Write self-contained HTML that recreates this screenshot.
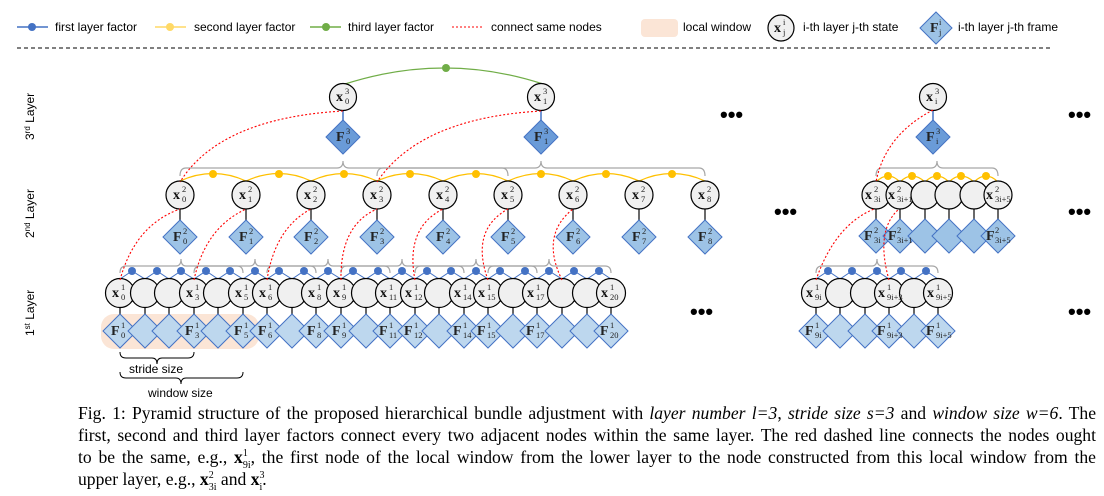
<!DOCTYPE html>
<html><head><meta charset="utf-8"><style>
html,body{margin:0;padding:0;background:#fff;width:1104px;height:496px;overflow:hidden;position:relative}
svg{position:absolute;left:0;top:0}
.lg{font-family:"Liberation Sans",sans-serif;font-size:12px;fill:#000}
.m{font-family:"Liberation Serif",serif;font-weight:bold;font-size:14px;fill:#111}
.f{font-family:"Liberation Serif",serif;font-weight:bold;font-size:14px;fill:#222}
.s{font-family:"Liberation Serif",serif;font-size:8.5px;fill:#222}
.c1{fill:#f0f0f0;stroke:#000;stroke-width:1.2}
.d1{fill:#bdd7ee;stroke:#4472c4;stroke-width:1}
.d2{fill:#9dc3e6;stroke:#4472c4;stroke-width:1}
.d3{fill:#6a9bd8;stroke:#4472c4;stroke-width:1}
.v{stroke:#444;stroke-width:1.6}
.r{fill:none;stroke:#ff0000;stroke-width:1.1;stroke-dasharray:2,2}
.b{fill:none;stroke:#4472c4;stroke-width:1}
.y{fill:none;stroke:#ffc000;stroke-width:1.2}
.g{fill:none;stroke:#a6a6a6;stroke-width:1.2}
.cap{position:absolute;left:78px;top:402px;width:1018px;font-family:"Liberation Serif",serif;font-size:17.6px;color:#000}
.cap div{height:22px;line-height:22px;white-space:nowrap;text-align:justify;text-align-last:justify}
.cap div.last{text-align-last:left}
.cap sup,.cap sub{font-size:10px;line-height:0}
.cap sub{margin-left:-5px}
</style></head><body>
<svg width="1104" height="400" viewBox="0 0 1104 400">
<line x1="17" y1="27" x2="48" y2="27" stroke="#4472c4" stroke-width="1.5"/><circle cx="32" cy="27" r="4" fill="#4472c4"/>
<text class="lg" x="55" y="31">first layer factor</text>
<line x1="155" y1="27" x2="186" y2="27" stroke="#ffd966" stroke-width="1.5"/><circle cx="170" cy="27" r="4" fill="#ffd966"/>
<text class="lg" x="194" y="31">second layer factor</text>
<line x1="310" y1="27" x2="341" y2="27" stroke="#70ad47" stroke-width="1.5"/><circle cx="326" cy="27" r="4" fill="#70ad47"/>
<text class="lg" x="348" y="31">third layer factor</text>
<line x1="452" y1="27" x2="484" y2="27" class="r"/>
<text class="lg" x="491" y="31">connect same nodes</text>
<rect x="641" y="19" width="37" height="18" rx="4" fill="#fbe5d6"/>
<text class="lg" x="683" y="31">local window</text>
<circle cx="781" cy="28" r="13" class="c1"/>
<text class="m" x="774" y="32">x</text><text class="s" x="783" y="25">i</text><text class="s" x="783" y="35">j</text>
<text class="lg" x="803" y="31">i-th layer j-th state</text>
<polygon points="936,12 952,28 936,44 920,28" class="d2"/>
<text class="f" x="930" y="32">F</text><text class="s" x="939" y="25">i</text><text class="s" x="939" y="35">j</text>
<text class="lg" x="958" y="31">i-th layer j-th frame</text>
<line x1="17" y1="48" x2="1052" y2="48" stroke="#000" stroke-width="1" stroke-dasharray="4,3"/>

<text class="lg" transform="translate(34,140) rotate(-90)">3<tspan font-size="8" dy="-4">rd</tspan><tspan dy="4"> Layer</tspan></text>
<text class="lg" transform="translate(34,238) rotate(-90)">2<tspan font-size="8" dy="-4">nd</tspan><tspan dy="4"> Layer</tspan></text>
<text class="lg" transform="translate(34,336) rotate(-90)">1<tspan font-size="8" dy="-4">st</tspan><tspan dy="4"> Layer</tspan></text>

<g font-family="Liberation Sans" font-size="22" font-weight="bold">
<text x="720" y="122">•••</text><text x="1068" y="122">•••</text>
<text x="774" y="219">•••</text><text x="1068" y="219">•••</text>
<text x="690" y="319">•••</text><text x="1068" y="319">•••</text>
</g>

<rect x="101" y="314" width="158" height="35" rx="13" fill="#fbe5d6"/>

<path d="M345,84 Q445,52 543,84" fill="none" stroke="#70ad47" stroke-width="1.2"/>
<circle cx="446" cy="68" r="4" fill="#70ad47"/>
<line x1="343" y1="110" x2="343" y2="125" stroke="#4472c4" stroke-width="1.5"/>
<line x1="541" y1="110" x2="541" y2="125" stroke="#4472c4" stroke-width="1.5"/>
<line x1="933" y1="110" x2="933" y2="125" stroke="#4472c4" stroke-width="1.5"/>
<polygon points="343,120 360,137 343,154 326,137" class="d3"/>
<polygon points="541,120 558,137 541,154 524,137" class="d3"/>
<polygon points="933,120 950,137 933,154 916,137" class="d3"/>
<circle cx="343" cy="97" r="13.5" class="c1"/><circle cx="541" cy="97" r="13.5" class="c1"/><circle cx="933" cy="97" r="13.5" class="c1"/>
<text class="m" x="336" y="101">x</text><text class="s" x="345" y="94">3</text><text class="s" x="345" y="104">0</text>
<text class="m" x="534" y="101">x</text><text class="s" x="543" y="94">3</text><text class="s" x="543" y="104">1</text>
<text class="m" x="926" y="101">x</text><text class="s" x="935" y="94">3</text><text class="s" x="935" y="104">i</text>
<text class="f" x="336" y="141">F</text><text class="s" x="346" y="134">3</text><text class="s" x="346" y="144">0</text>
<text class="f" x="534" y="141">F</text><text class="s" x="544" y="134">3</text><text class="s" x="544" y="144">1</text>
<text class="f" x="926" y="141">F</text><text class="s" x="936" y="134">3</text><text class="s" x="936" y="144">i</text>

<path class="g" d="M180,176 Q180,168 186,168 L337,168 Q343,168 343,161 Q343,168 349,168 L502,168 Q508,168 508,176"/>
<path class="g" d="M377,176 Q377,168 383,168 L535,168 Q541,168 541,161 Q541,168 547,168 L699,168 Q705,168 705,176"/>
<path class="g" d="M876,176 Q876,168 882,168 L931,168 Q937,168 937,161 Q937,168 943,168 L992,168 Q998,168 998,176"/>
<g class="y">
<path d="M180,181 Q213,166 246,181"/><path d="M246,181 Q279,166 311,181"/><path d="M311,181 Q344,166 377,181"/><path d="M377,181 Q410,166 443,181"/><path d="M443,181 Q476,166 508,181"/><path d="M508,181 Q541,166 573,181"/><path d="M573,181 Q606,166 639,181"/><path d="M639,181 Q672,166 705,181"/>
<path d="M876,182 Q888,170 900,182"/><path d="M900,182 Q912,170 925,182"/><path d="M925,182 Q937,170 949,182"/><path d="M949,182 Q961,170 974,182"/><path d="M974,182 Q986,170 998,182"/>
</g>
<g fill="#ffc000">
<circle cx="213" cy="174" r="4"/><circle cx="279" cy="174" r="4"/><circle cx="344" cy="174" r="4"/><circle cx="410" cy="174" r="4"/><circle cx="476" cy="174" r="4"/><circle cx="541" cy="174" r="4"/><circle cx="606" cy="174" r="4"/><circle cx="672" cy="174" r="4"/>
<circle cx="888" cy="176" r="4"/><circle cx="912" cy="176" r="4"/><circle cx="937" cy="176" r="4"/><circle cx="961" cy="176" r="4"/><circle cx="986" cy="176" r="4"/>
</g>
<g class="v">
<line x1="180" y1="208" x2="180" y2="222"/><line x1="246" y1="208" x2="246" y2="222"/><line x1="311" y1="208" x2="311" y2="222"/><line x1="377" y1="208" x2="377" y2="222"/><line x1="443" y1="208" x2="443" y2="222"/><line x1="508" y1="208" x2="508" y2="222"/><line x1="573" y1="208" x2="573" y2="222"/><line x1="639" y1="208" x2="639" y2="222"/><line x1="705" y1="208" x2="705" y2="222"/>
<line x1="876" y1="208" x2="876" y2="222"/><line x1="900" y1="208" x2="900" y2="222"/><line x1="925" y1="208" x2="925" y2="222"/><line x1="949" y1="208" x2="949" y2="222"/><line x1="974" y1="208" x2="974" y2="222"/><line x1="998" y1="208" x2="998" y2="222"/>
</g>
<g class="d2">
<polygon points="180,220 197,237 180,254 163,237"/><polygon points="246,220 263,237 246,254 229,237"/><polygon points="311,220 328,237 311,254 294,237"/><polygon points="377,220 394,237 377,254 360,237"/><polygon points="443,220 460,237 443,254 426,237"/><polygon points="508,220 525,237 508,254 491,237"/><polygon points="573,220 590,237 573,254 556,237"/><polygon points="639,220 656,237 639,254 622,237"/><polygon points="705,220 722,237 705,254 688,237"/>
<polygon points="876,219 893,236 876,253 859,236"/><polygon points="900,219 917,236 900,253 883,236"/><polygon points="925,219 942,236 925,253 908,236"/><polygon points="949,219 966,236 949,253 932,236"/><polygon points="974,219 991,236 974,253 957,236"/><polygon points="998,219 1015,236 998,253 981,236"/>
</g>
<g class="c1">
<circle cx="180" cy="195" r="14"/><circle cx="246" cy="195" r="14"/><circle cx="311" cy="195" r="14"/><circle cx="377" cy="195" r="14"/><circle cx="443" cy="195" r="14"/><circle cx="508" cy="195" r="14"/><circle cx="573" cy="195" r="14"/><circle cx="639" cy="195" r="14"/><circle cx="705" cy="195" r="14"/>
<circle cx="876" cy="195" r="14"/><circle cx="900" cy="195" r="14"/><circle cx="925" cy="195" r="14"/><circle cx="949" cy="195" r="14"/><circle cx="974" cy="195" r="14"/><circle cx="998" cy="195" r="14"/>
</g>
<text class="m" x="173" y="199">x</text><text class="s" x="182" y="192">2</text><text class="s" x="182" y="202">0</text>
<text class="m" x="239" y="199">x</text><text class="s" x="248" y="192">2</text><text class="s" x="248" y="202">1</text>
<text class="m" x="304" y="199">x</text><text class="s" x="313" y="192">2</text><text class="s" x="313" y="202">2</text>
<text class="m" x="370" y="199">x</text><text class="s" x="379" y="192">2</text><text class="s" x="379" y="202">3</text>
<text class="m" x="436" y="199">x</text><text class="s" x="445" y="192">2</text><text class="s" x="445" y="202">4</text>
<text class="m" x="501" y="199">x</text><text class="s" x="510" y="192">2</text><text class="s" x="510" y="202">5</text>
<text class="m" x="566" y="199">x</text><text class="s" x="575" y="192">2</text><text class="s" x="575" y="202">6</text>
<text class="m" x="632" y="199">x</text><text class="s" x="641" y="192">2</text><text class="s" x="641" y="202">7</text>
<text class="m" x="698" y="199">x</text><text class="s" x="707" y="192">2</text><text class="s" x="707" y="202">8</text>
<text class="f" x="173" y="241">F</text><text class="s" x="183" y="234">2</text><text class="s" x="183" y="244">0</text>
<text class="f" x="239" y="241">F</text><text class="s" x="249" y="234">2</text><text class="s" x="249" y="244">1</text>
<text class="f" x="304" y="241">F</text><text class="s" x="314" y="234">2</text><text class="s" x="314" y="244">2</text>
<text class="f" x="370" y="241">F</text><text class="s" x="380" y="234">2</text><text class="s" x="380" y="244">3</text>
<text class="f" x="436" y="241">F</text><text class="s" x="446" y="234">2</text><text class="s" x="446" y="244">4</text>
<text class="f" x="501" y="241">F</text><text class="s" x="511" y="234">2</text><text class="s" x="511" y="244">5</text>
<text class="f" x="566" y="241">F</text><text class="s" x="576" y="234">2</text><text class="s" x="576" y="244">6</text>
<text class="f" x="632" y="241">F</text><text class="s" x="642" y="234">2</text><text class="s" x="642" y="244">7</text>
<text class="f" x="698" y="241">F</text><text class="s" x="708" y="234">2</text><text class="s" x="708" y="244">8</text>
<text class="m" x="865" y="199">x</text><text class="s" x="874" y="192">2</text><text class="s" x="874" y="202">3i</text>
<text class="m" x="888" y="199">x</text><text class="s" x="897" y="192">2</text><text class="s" x="897" y="202" font-size="6">3i+1</text>
<text class="m" x="986" y="199">x</text><text class="s" x="995" y="192">2</text><text class="s" x="995" y="202" font-size="6">3i+5</text>
<text class="f" x="864" y="240">F</text><text class="s" x="874" y="233">2</text><text class="s" x="874" y="243">3i</text>
<text class="f" x="888" y="240">F</text><text class="s" x="897" y="233">2</text><text class="s" x="897" y="243" font-size="6">3i+1</text>
<text class="f" x="986" y="240">F</text><text class="s" x="995" y="233">2</text><text class="s" x="995" y="243" font-size="6">3i+5</text>

<g class="g">
<path d="M120,273 Q120,266 126,266 L176,266 Q181,266 181,259 Q181,266 186,266 L237,266 Q243,266 243,273"/>
<path d="M194,273 Q194,266 200,266 L250,266 Q255,266 255,259 Q255,266 260,266 L310,266 Q316,266 316,273"/>
<path d="M267,273 Q267,266 273,266 L323,266 Q328,266 328,259 Q328,266 333,266 L384,266 Q390,266 390,273"/>
<path d="M341,273 Q341,266 347,266 L397,266 Q402,266 402,259 Q402,266 407,266 L458,266 Q464,266 464,273"/>
<path d="M415,273 Q415,266 421,266 L471,266 Q476,266 476,259 Q476,266 481,266 L531,266 Q537,266 537,273"/>
<path d="M488,273 Q488,266 494,266 L544,266 Q549,266 549,259 Q549,266 554,266 L605,266 Q611,266 611,273"/>
<path d="M816,273 Q816,266 822,266 L872,266 Q877,266 877,259 Q877,266 882,266 L932,266 Q938,266 938,273"/>
</g>
<path class="b" d="M120,279 L132,271 L145,279 L157,271 L169,279 L181,271 L194,279 L206,271 L218,279 L230,271 L243,279 L255,271 L267,279 L279,271 L292,279 L304,271 L316,279 L328,271 L341,279 L353,271 L366,279 L378,271 L390,279 L402,271 L415,279 L427,271 L439,279 L451,271 L464,279 L476,271 L488,279 L500,271 L513,279 L525,271 L537,279 L549,271 L562,279 L574,271 L587,279 L599,271 L611,279"/>
<path class="b" d="M816,279 L828,271 L840,279 L852,271 L865,279 L877,271 L889,279 L901,271 L914,279 L926,271 L938,279"/>
<g fill="#4472c4">
<circle cx="132" cy="271" r="4"/><circle cx="157" cy="271" r="4"/><circle cx="181" cy="271" r="4"/><circle cx="206" cy="271" r="4"/><circle cx="230" cy="271" r="4"/><circle cx="255" cy="271" r="4"/><circle cx="279" cy="271" r="4"/><circle cx="304" cy="271" r="4"/><circle cx="328" cy="271" r="4"/><circle cx="353" cy="271" r="4"/><circle cx="378" cy="271" r="4"/><circle cx="402" cy="271" r="4"/><circle cx="427" cy="271" r="4"/><circle cx="451" cy="271" r="4"/><circle cx="476" cy="271" r="4"/><circle cx="500" cy="271" r="4"/><circle cx="525" cy="271" r="4"/><circle cx="549" cy="271" r="4"/><circle cx="574" cy="271" r="4"/><circle cx="599" cy="271" r="4"/>
<circle cx="828" cy="271" r="4"/><circle cx="852" cy="271" r="4"/><circle cx="877" cy="271" r="4"/><circle cx="901" cy="271" r="4"/><circle cx="926" cy="271" r="4"/>
</g>
<g class="v">
<path d="M120,306V318M145,306V318M169,306V318M194,306V318M218,306V318M243,306V318M267,306V318M292,306V318M316,306V318M341,306V318M366,306V318M390,306V318M415,306V318M439,306V318M464,306V318M488,306V318M513,306V318M537,306V318M562,306V318M587,306V318M611,306V318M816,306V318M840,306V318M865,306V318M889,306V318M914,306V318M938,306V318"/>
</g>
<g class="d1">
<polygon points="120,314 137,331 120,348 103,331"/><polygon points="145,314 162,331 145,348 128,331"/><polygon points="169,314 186,331 169,348 152,331"/><polygon points="194,314 211,331 194,348 177,331"/><polygon points="218,314 235,331 218,348 201,331"/><polygon points="243,314 260,331 243,348 226,331"/><polygon points="267,314 284,331 267,348 250,331"/><polygon points="292,314 309,331 292,348 275,331"/><polygon points="316,314 333,331 316,348 299,331"/><polygon points="341,314 358,331 341,348 324,331"/><polygon points="366,314 383,331 366,348 349,331"/><polygon points="390,314 407,331 390,348 373,331"/><polygon points="415,314 432,331 415,348 398,331"/><polygon points="439,314 456,331 439,348 422,331"/><polygon points="464,314 481,331 464,348 447,331"/><polygon points="488,314 505,331 488,348 471,331"/><polygon points="513,314 530,331 513,348 496,331"/><polygon points="537,314 554,331 537,348 520,331"/><polygon points="562,314 579,331 562,348 545,331"/><polygon points="587,314 604,331 587,348 570,331"/><polygon points="611,314 628,331 611,348 594,331"/>
<polygon points="816,314 833,331 816,348 799,331"/><polygon points="840,314 857,331 840,348 823,331"/><polygon points="865,314 882,331 865,348 848,331"/><polygon points="889,314 906,331 889,348 872,331"/><polygon points="914,314 931,331 914,348 897,331"/><polygon points="938,314 955,331 938,348 921,331"/>
</g>
<g class="c1">
<circle cx="120" cy="293" r="14.5"/><circle cx="145" cy="293" r="14.5"/><circle cx="169" cy="293" r="14.5"/><circle cx="194" cy="293" r="14.5"/><circle cx="218" cy="293" r="14.5"/><circle cx="243" cy="293" r="14.5"/><circle cx="267" cy="293" r="14.5"/><circle cx="292" cy="293" r="14.5"/><circle cx="316" cy="293" r="14.5"/><circle cx="341" cy="293" r="14.5"/><circle cx="366" cy="293" r="14.5"/><circle cx="390" cy="293" r="14.5"/><circle cx="415" cy="293" r="14.5"/><circle cx="439" cy="293" r="14.5"/><circle cx="464" cy="293" r="14.5"/><circle cx="488" cy="293" r="14.5"/><circle cx="513" cy="293" r="14.5"/><circle cx="537" cy="293" r="14.5"/><circle cx="562" cy="293" r="14.5"/><circle cx="587" cy="293" r="14.5"/><circle cx="611" cy="293" r="14.5"/>
<circle cx="816" cy="293" r="14.5"/><circle cx="840" cy="293" r="14.5"/><circle cx="865" cy="293" r="14.5"/><circle cx="889" cy="293" r="14.5"/><circle cx="914" cy="293" r="14.5"/><circle cx="938" cy="293" r="14.5"/>
</g>
<text class="m" x="112" y="297">x</text><text class="s" x="121" y="290">1</text><text class="s" x="121" y="300">0</text>
<text class="m" x="186" y="297">x</text><text class="s" x="195" y="290">1</text><text class="s" x="195" y="300">3</text>
<text class="m" x="235" y="297">x</text><text class="s" x="244" y="290">1</text><text class="s" x="244" y="300">5</text>
<text class="m" x="259" y="297">x</text><text class="s" x="268" y="290">1</text><text class="s" x="268" y="300">6</text>
<text class="m" x="308" y="297">x</text><text class="s" x="317" y="290">1</text><text class="s" x="317" y="300">8</text>
<text class="m" x="333" y="297">x</text><text class="s" x="342" y="290">1</text><text class="s" x="342" y="300">9</text>
<text class="m" x="380" y="297">x</text><text class="s" x="389" y="290">1</text><text class="s" x="389" y="300">11</text>
<text class="m" x="405" y="297">x</text><text class="s" x="414" y="290">1</text><text class="s" x="414" y="300">12</text>
<text class="m" x="454" y="297">x</text><text class="s" x="463" y="290">1</text><text class="s" x="463" y="300">14</text>
<text class="m" x="478" y="297">x</text><text class="s" x="487" y="290">1</text><text class="s" x="487" y="300">15</text>
<text class="m" x="527" y="297">x</text><text class="s" x="536" y="290">1</text><text class="s" x="536" y="300">17</text>
<text class="m" x="601" y="297">x</text><text class="s" x="610" y="290">1</text><text class="s" x="610" y="300">20</text>
<text class="m" x="806" y="297">x</text><text class="s" x="815" y="290">1</text><text class="s" x="815" y="300">9i</text>
<text class="m" x="878" y="297">x</text><text class="s" x="887" y="290">1</text><text class="s" x="887" y="300" font-size="6">9i+3</text>
<text class="m" x="927" y="297">x</text><text class="s" x="936" y="290">1</text><text class="s" x="936" y="300" font-size="6">9i+5</text>
<text class="f" x="111" y="335">F</text><text class="s" x="121" y="328">1</text><text class="s" x="121" y="338">0</text>
<text class="f" x="185" y="335">F</text><text class="s" x="195" y="328">1</text><text class="s" x="195" y="338">3</text>
<text class="f" x="234" y="335">F</text><text class="s" x="244" y="328">1</text><text class="s" x="244" y="338">5</text>
<text class="f" x="258" y="335">F</text><text class="s" x="268" y="328">1</text><text class="s" x="268" y="338">6</text>
<text class="f" x="307" y="335">F</text><text class="s" x="317" y="328">1</text><text class="s" x="317" y="338">8</text>
<text class="f" x="332" y="335">F</text><text class="s" x="342" y="328">1</text><text class="s" x="342" y="338">9</text>
<text class="f" x="379" y="335">F</text><text class="s" x="389" y="328">1</text><text class="s" x="389" y="338">11</text>
<text class="f" x="404" y="335">F</text><text class="s" x="414" y="328">1</text><text class="s" x="414" y="338">12</text>
<text class="f" x="453" y="335">F</text><text class="s" x="463" y="328">1</text><text class="s" x="463" y="338">14</text>
<text class="f" x="477" y="335">F</text><text class="s" x="487" y="328">1</text><text class="s" x="487" y="338">15</text>
<text class="f" x="526" y="335">F</text><text class="s" x="536" y="328">1</text><text class="s" x="536" y="338">17</text>
<text class="f" x="600" y="335">F</text><text class="s" x="610" y="328">1</text><text class="s" x="610" y="338">20</text>
<text class="f" x="805" y="335">F</text><text class="s" x="815" y="328">1</text><text class="s" x="815" y="338">9i</text>
<text class="f" x="877" y="335">F</text><text class="s" x="887" y="328">1</text><text class="s" x="887" y="338" font-size="6">9i+3</text>
<text class="f" x="926" y="335">F</text><text class="s" x="936" y="328">1</text><text class="s" x="936" y="338" font-size="6">9i+5</text>

<path class="r" d="M343,111 Q220,118 180,182"/>
<path class="r" d="M541,111 Q420,118 377,182"/>
<path class="r" d="M933,110 Q885,135 876,182"/>
<path class="r" d="M120,280 Q135,225 180,209"/>
<path class="r" d="M194,280 Q205,228 246,209"/>
<path class="r" d="M267,280 Q275,228 311,209"/>
<path class="r" d="M341,280 Q340,225 377,209"/>
<path class="r" d="M415,280 Q405,228 443,209"/>
<path class="r" d="M488,280 Q470,230 508,209"/>
<path class="r" d="M562,280 Q540,235 573,209"/>
<path class="r" d="M816,280 Q835,225 874,209"/>
<path class="r" d="M889,280 Q875,230 899,209"/>

<path d="M120,352 Q120,358 126,358 L152,358 Q157,358 157,364 Q157,358 162,358 L188,358 Q194,358 194,352" fill="none" stroke="#000" stroke-width="1"/>
<text class="lg" x="129" y="373">stride size</text>
<path d="M120,372 Q120,378 126,378 L176,378 Q181,378 181,384 Q181,378 186,378 L237,378 Q243,378 243,372" fill="none" stroke="#000" stroke-width="1"/>
<text class="lg" x="148" y="397">window size</text>
</svg>
<div class="cap">
<div>Fig. 1: Pyramid structure of the proposed hierarchical bundle adjustment with <i>layer number l=3</i>, <i>stride size s=3</i> and <i>window size w=6</i>. The</div>
<div>first, second and third layer factors connect every two adjacent nodes within the same layer. The red dashed line connects the nodes ought</div>
<div>to be the same, e.g., <b>x</b><sup>1</sup><sub>9i</sub>, the first node of the local window from the lower layer to the node constructed from this local window from the</div>
<div class="last">upper layer, e.g., <b>x</b><sup>2</sup><sub>3i</sub> and <b>x</b><sup>3</sup><sub>i</sub>.</div>
</div>
</body></html>
